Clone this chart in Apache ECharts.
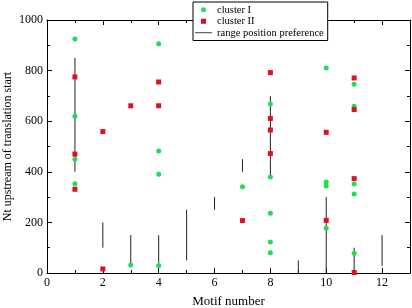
<!DOCTYPE html>
<html>
<head>
<meta charset="utf-8">
<script src="https://cdn.jsdelivr.net/npm/echarts@6/dist/echarts.min.js"></script>
<style>
html,body{margin:0;padding:0;background:#fff;}
#chart{width:412px;height:308px;}
</style>
</head>
<body>
<div id="chart"></div>
<script>
// cluster I (green circles): [motif, nt]
var clusterI = [
  [1, 925], [1, 620], [1, 450], [1, 353],
  [3, 32],
  [4, 906], [4, 482], [4, 390], [4, 30],
  [7, 341],
  [8, 668], [8, 379], [8, 236], [8, 123], [8, 80],
  [10, 810], [10, 360], [10, 344], [10, 177],
  [11, 746], [11, 659], [11, 352], [11, 312], [11, 78]
];
// cluster II (red squares)
var clusterII = [
  [1, 775], [1, 470], [1, 331],
  [2, 559], [2, 16],
  [3, 661],
  [4, 755], [4, 661],
  [7, 207],
  [8, 792], [8, 611], [8, 565], [8, 472],
  [10, 556], [10, 208],
  [11, 771], [11, 646], [11, 373], [11, 2]
];
// range position preference
var rangeMotif = [1, 2, 3, 4, 5, 6, 7, 8, 9, 10, 11, 12];
var rangeLow   = [400, 100, 30, 40, 50, 250, 400, 380, 0, 0, 0, 28];
var rangeHigh  = [850, 200, 150, 150, 250, 300, 450, 700, 50, 300, 100, 150];

var rangeData = [];
for (var i = 0; i < rangeMotif.length; i++) {
  rangeData.push([rangeMotif[i], rangeLow[i]]);
  rangeData.push([rangeMotif[i], rangeHigh[i]]);
  rangeData.push([rangeMotif[i], '-']);
}

var font = 'Liberation Serif';
var tickStyle = {show: true, inside: true, length: 5, lineStyle: {color: '#000'}};
var minorStyle = {show: true, splitNumber: 2, length: 3, lineStyle: {color: '#000'}};

var myChart = echarts.init(document.getElementById('chart'));
myChart.setOption({
  animation: false,
  grid: {left: 47, right: 2, top: 20, bottom: 35, outerBoundsMode: 'none'},
  legend: {
    orient: 'vertical',
    left: 193, top: 2,
    padding: [2, 4, 2, 2],
    itemGap: 0,
    itemWidth: 17, itemHeight: 5,
    borderColor: '#000', borderWidth: 1,
    backgroundColor: '#fff',
    textStyle: {fontFamily: font, fontSize: 10.5, color: '#000', lineHeight: 11.5},
    data: [
      {name: 'cluster I', icon: 'circle'},
      {name: 'cluster II', icon: 'path://M0,0H10V10H0Z'},
      {name: 'range position preference', icon: 'path://M0,0H20V1H0Z'}
    ]
  },
  xAxis: [{
    type: 'value', min: 0, max: 13, interval: 2,
    name: 'Motif number', nameLocation: 'middle', nameGap: 22, nameMoveOverlap: false,
    nameTextStyle: {fontFamily: font, fontSize: 13, color: '#000'},
    axisLine: {show: true, onZero: false, lineStyle: {color: '#000'}},
    axisTick: tickStyle, minorTick: minorStyle,
    splitLine: {show: false},
    axisLabel: {fontFamily: font, fontSize: 12, color: '#000', margin: 4, showMaxLabel: false}
  }, {
    type: 'value', min: 0, max: 13, interval: 2, position: 'top',
    axisLine: {show: true, onZero: false, lineStyle: {color: '#000'}},
    axisTick: tickStyle, minorTick: minorStyle,
    splitLine: {show: false}, axisLabel: {show: false}
  }],
  yAxis: [{
    type: 'value', min: 0, max: 1000, interval: 200,
    name: 'Nt upstream of translation start', nameLocation: 'middle', nameGap: 33, nameMoveOverlap: false,
    nameTextStyle: {fontFamily: font, fontSize: 12, color: '#000'},
    axisLine: {show: true, onZero: false, lineStyle: {color: '#000'}},
    axisTick: tickStyle, minorTick: minorStyle,
    splitLine: {show: false},
    axisLabel: {fontFamily: font, fontSize: 12, color: '#000', margin: 4,
      formatter: function (v) { return String(v); }}
  }, {
    type: 'value', min: 0, max: 1000, interval: 200, position: 'right',
    axisLine: {show: true, onZero: false, lineStyle: {color: '#000'}},
    axisTick: tickStyle, minorTick: minorStyle,
    splitLine: {show: false}, axisLabel: {show: false}
  }],
  series: [
    {
      name: 'range position preference',
      type: 'line',
      data: rangeData,
      showSymbol: false, symbol: 'none',
      connectNulls: false,
      lineStyle: {color: '#222', width: 1},
      itemStyle: {color: '#222'},
      z: 1
    },
    {
      name: 'cluster I',
      type: 'scatter',
      data: clusterI,
      symbol: 'circle', symbolSize: 5,
      itemStyle: {color: '#1fdd55', opacity: 1},
      z: 3
    },
    {
      name: 'cluster II',
      type: 'scatter',
      data: clusterII,
      symbol: 'rect', symbolSize: 5,
      itemStyle: {color: '#dd1122', opacity: 1},
      z: 4
    }
  ]
});
</script>
</body>
</html>
